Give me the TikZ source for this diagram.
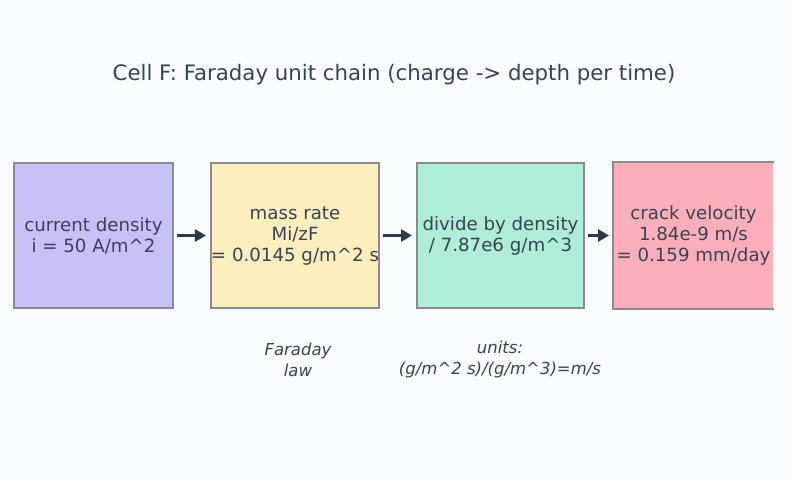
\documentclass[tikz,border=0pt]{standalone}
\usepackage{fontspec}
\setmainfont{DejaVu Sans}
\usepackage{xcolor}
\definecolor{pagebg}{HTML}{FAFBFD}
\definecolor{inkgray}{HTML}{3A4253}
\definecolor{arrowink}{HTML}{2E3A4B}
\definecolor{edgegray}{HTML}{888C92}
\definecolor{cellviolet}{HTML}{C9C0F9}
\definecolor{cellyellow}{HTML}{FCEFBD}
\definecolor{cellgreen}{HTML}{AEEED8}
\definecolor{cellpink}{HTML}{FDAFB9}
\usetikzlibrary{arrows.meta}
\newcommand{\caret}{\textasciicircum}

\begin{document}
\begin{tikzpicture}[
    x=1pt, y=-1pt,
    box/.style={rectangle, draw=edgegray, line width=2pt, inner sep=0pt, minimum width=168pt, minimum height=145pt, align=center, text=inkgray, font=\fontsize{18.2}{21}\selectfont},
    arrow/.style={-{Triangle[length=11pt,width=12pt]}, line width=2.8pt, arrowink, shorten <=3pt, shorten >=4pt},
    note/.style={align=center, text=inkgray, font=\fontsize{16.5}{21}\selectfont\itshape}
]
\fill[pagebg] (0,0) rectangle (792,480);
\useasboundingbox (0,0) rectangle (792,480);

% Title
\node[text=inkgray, font=\fontsize{21.3}{24}\selectfont] (title) at (394,75) {Cell F: Faraday unit chain (charge -> depth per time)};

% Chain of cells
\node[box, fill=cellviolet, minimum width=159pt] (cur) at (93.5,235.5) {current density\\i = 50 A/m\caret2};
\node[box, fill=cellyellow] (mass) at (295,235.5) {mass rate\\Mi/zF\\= 0.0145 g/m\caret2 s};
\node[box, fill=cellgreen, minimum width=167pt] (dens) at (500.5,235.5) {divide by density\\/ 7.87e6 g/m\caret3};
\node[box, fill=cellpink, draw=none, minimum width=159pt] (vel) at (693.5,235.5) {crack velocity\\1.84e-9 m/s\\= 0.159 mm/day};
\draw[edgegray, line width=2pt] (vel.north east) -- (vel.north west) -- (vel.south west) -- (vel.south east);

% Arrows
\draw[arrow] (cur) -- (mass);
\draw[arrow] (mass) -- (dens);
\draw[arrow] (dens) -- (vel);

% Notes
\node[note] (faraday) at (298,359.5) {Faraday\\law};
\node[note] (units) at (500,359.5) {units:\\(g/m\caret2 s)/(g/m\caret3)=m/s};
\end{tikzpicture}
\end{document}
